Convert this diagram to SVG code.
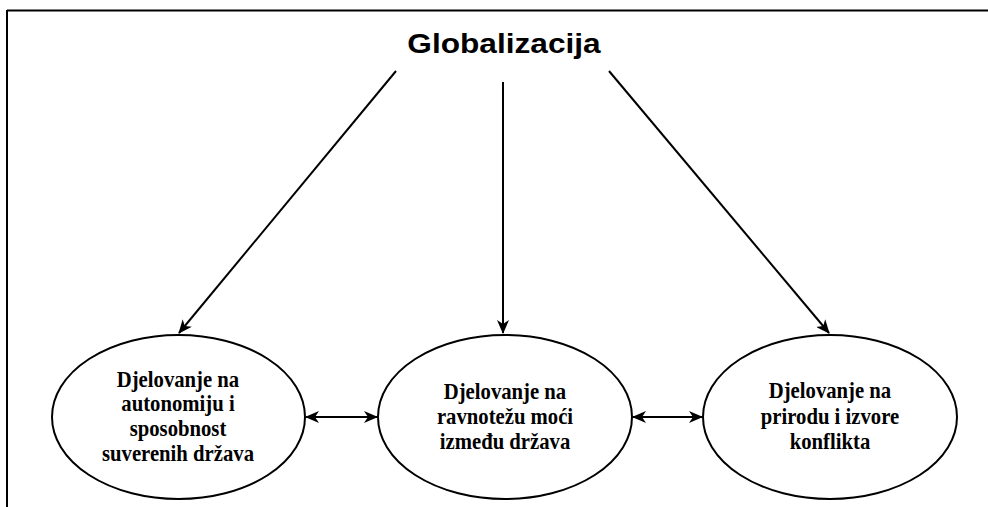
<svg xmlns="http://www.w3.org/2000/svg" width="988" height="507" viewBox="0 0 988 507">
<style>
.node ellipse{fill:#fff;stroke:#000;stroke-width:2}
.lbl{font-family:"Liberation Serif","Times New Roman",serif;font-weight:bold;font-size:23px;fill:#000;text-anchor:middle}
.title{font-family:"Liberation Sans",Arial,sans-serif;font-weight:bold;font-size:27.5px;fill:#000;text-anchor:middle}
.conn line{stroke:#000;stroke-width:2;fill:none}
</style>
<defs>
<marker id="ah" viewBox="0 0 14 12" refX="13" refY="6" markerWidth="14" markerHeight="12" markerUnits="userSpaceOnUse" orient="auto-start-reverse">
<path d="M0,0 L14,6 L0,12 L4,6 z" fill="#000"/>
</marker>
</defs>
<rect width="988" height="507" fill="#fff"/>
<g id="frame">
<line x1="7" y1="10.5" x2="988" y2="10.5" stroke="#000" stroke-width="2"/>
<line x1="7" y1="10" x2="7" y2="507" stroke="#000" stroke-width="2"/>
</g>
<g id="title">
<text class="title" transform="translate(504,52.5) scale(1.15,1)">Globalizacija</text>
</g>
<g class="conn" id="connectors">
<line x1="396" y1="71" x2="179" y2="333" marker-end="url(#ah)"/>
<line x1="503" y1="82" x2="503" y2="333" marker-end="url(#ah)"/>
<line x1="609" y1="71" x2="829" y2="333" marker-end="url(#ah)"/>
<line x1="306" y1="417" x2="377" y2="417" marker-start="url(#ah)" marker-end="url(#ah)"/>
<line x1="633" y1="417" x2="702" y2="417" marker-start="url(#ah)" marker-end="url(#ah)"/>
</g>
<g class="node" id="n1">
<ellipse cx="178.5" cy="417" rx="126.5" ry="82"/>
<g transform="translate(178,0) scale(0.9,1)">
<text class="lbl" x="0" y="387">Djelovanje na</text>
<text class="lbl" x="0" y="411.5">autonomiju i</text>
<text class="lbl" x="0" y="436">sposobnost</text>
<text class="lbl" x="0" y="461.5">suverenih država</text>
</g>
</g>
<g class="node" id="n2">
<ellipse cx="505" cy="417" rx="127" ry="82"/>
<g transform="translate(505,0) scale(0.9,1)">
<text class="lbl" x="0" y="399">Djelovanje na</text>
<text class="lbl" x="0" y="424">ravnotežu moći</text>
<text class="lbl" x="0" y="449.5">između država</text>
</g>
</g>
<g class="node" id="n3">
<ellipse cx="830" cy="417" rx="127" ry="82"/>
<g transform="translate(830,0) scale(0.9,1)">
<text class="lbl" x="0" y="398.5">Djelovanje na</text>
<text class="lbl" x="0" y="424">prirodu i izvore</text>
<text class="lbl" x="0" y="449.5">konflikta</text>
</g>
</g>
</svg>
